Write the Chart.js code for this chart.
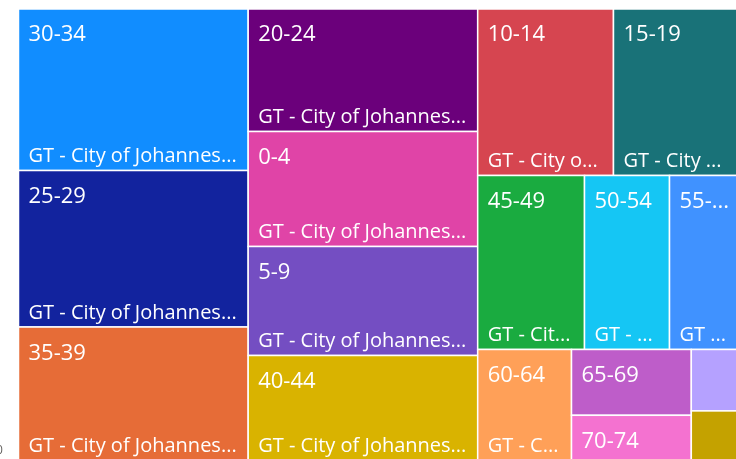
<!DOCTYPE html>
<html>
<head>
<meta charset="utf-8">
<script src="https://cdn.jsdelivr.net/npm/chart.js@4.4.1/dist/chart.umd.min.js"></script>
<style>
  body { margin: 0; background: #fff; }
  canvas { display: block; }
</style>
</head>
<body>
<canvas id="treemap" width="736" height="459"></canvas>
<script>
// population by age group, GT - City of Johannesburg
const ageGroups = ['0-4','5-9','10-14','15-19','20-24','25-29','30-34','35-39','40-44','45-49','50-54','55-59','60-64','65-69','70-74','75-79','80+'];
const population = [343100, 325200, 293900, 269500, 365500, 467300, 482300, 398600, 313300, 241600, 192300, 154900, 135400, 102500, 70400, 37300, 30100];
const municipality = 'GT - City of Johannesburg';
// colours go by rank (biggest first)
const palette = ['#118DFF','#12239E','#E66C37','#6B007B','#E044A7','#744EC2','#D9B300','#D64550','#197278','#1AAB40','#15C6F4','#4092FF','#FFA058','#BE5DC9','#F472D0','#B5A1FF','#C4A200'];

const PHI = (1 + Math.sqrt(5)) / 2;

// squarified layout, same greedy rule as d3.treemapSquarify
function squarify(nodes, x0, y0, x1, y1) {
  let value = nodes.reduce((a, n) => a + n.value, 0);
  let i0 = 0, i1 = 0;
  const n = nodes.length;
  while (i0 < n) {
    const dx = x1 - x0, dy = y1 - y0;
    let sumValue = nodes[i1++].value;
    let minValue = sumValue, maxValue = sumValue;
    const alpha = Math.max(dy / dx, dx / dy) / (value * PHI);
    let beta = sumValue * sumValue * alpha;
    let minRatio = Math.max(maxValue / beta, beta / minValue);
    for (; i1 < n; ++i1) {
      const v = nodes[i1].value;
      sumValue += v;
      if (v < minValue) minValue = v;
      if (v > maxValue) maxValue = v;
      beta = sumValue * sumValue * alpha;
      const newRatio = Math.max(maxValue / beta, beta / minValue);
      if (newRatio > minRatio) { sumValue -= v; break; }
      minRatio = newRatio;
    }
    const row = nodes.slice(i0, i1);
    if (dx < dy) {
      const yb = y0 + dy * sumValue / value;
      let x = x0;
      row.forEach(nd => {
        const w = dx * nd.value / sumValue;
        nd.x0 = x; nd.x1 = x + w; nd.y0 = y0; nd.y1 = yb;
        x += w;
      });
      y0 = yb;
    } else {
      const xb = x0 + dx * sumValue / value;
      let y = y0;
      row.forEach(nd => {
        const h = dy * nd.value / sumValue;
        nd.x0 = x0; nd.x1 = xb; nd.y0 = y; nd.y1 = y + h;
        y += h;
      });
      x0 = xb;
    }
    value -= sumValue;
    i0 = i1;
  }
  return nodes;
}

function fitText(ctx, text, maxW) {
  if (ctx.measureText(text).width <= maxW) return text;
  let s = text;
  while (s.length > 0 && ctx.measureText(s + '...').width > maxW) s = s.slice(0, -1);
  return s.length ? s + '...' : '';
}

const treemapCells = {
  id: 'treemapCells',
  afterDatasetsDraw(chart) {
    const { ctx, chartArea, scales: { x, y } } = chart;
    const nodes = ageGroups
      .map((g, i) => ({ label: g, value: population[i] }))
      .sort((a, b) => b.value - a.value);
    nodes.forEach((nd, i) => nd.color = palette[i % palette.length]);
    squarify(nodes, x.getPixelForValue(0), y.getPixelForValue(0), x.getPixelForValue(100), y.getPixelForValue(100));

    ctx.save();
    ctx.beginPath();
    ctx.rect(chartArea.left, chartArea.top, chartArea.width, chartArea.height);
    ctx.clip();

    nodes.forEach(nd => {
      ctx.fillStyle = nd.color;
      ctx.fillRect(nd.x0, nd.y0, nd.x1 - nd.x0, nd.y1 - nd.y0);
      ctx.strokeStyle = '#ffffff';
      ctx.lineWidth = 1.5;
      ctx.strokeRect(nd.x0, nd.y0, nd.x1 - nd.x0, nd.y1 - nd.y0);
    });

    ctx.fillStyle = '#ffffff';
    ctx.textAlign = 'left';
    ctx.textBaseline = 'alphabetic';
    nodes.forEach(nd => {
      const w = nd.x1 - nd.x0, h = nd.y1 - nd.y0;
      if (w < 50 || h < 30) return;
      ctx.font = '22px "Open Sans"';
      ctx.fillText(fitText(ctx, nd.label, w - 18), nd.x0 + 10, nd.y0 + 32.5);
      if (h >= 80) {
        ctx.font = '20px "Open Sans"';
        ctx.fillText(fitText(ctx, municipality, w - 19), nd.x0 + 10, nd.y1 - 8.5);
      }
    });

    // edge of the next visual's axis label, cut off at the left
    ctx.fillStyle = '#605E5C';
    ctx.font = '12px "Open Sans"';
    ctx.fillText('0', -4, 454);
    ctx.restore();
  }
};

new Chart(document.getElementById('treemap'), {
  type: 'scatter',
  data: { datasets: [{ data: [] }] },
  options: {
    responsive: false,
    animation: false,
    devicePixelRatio: 1,
    layout: { padding: 0 },
    plugins: { legend: { display: false }, tooltip: { enabled: false } },
    scales: {
      // treemap spans 0..100 on both axes; the window shows a crop of it
      x: { type: 'linear', display: false, min: -2.571, max: 99.722 },
      y: { type: 'linear', display: false, reverse: true, min: -1.993, max: 99.668 }
    }
  },
  plugins: [treemapCells]
});
</script>
</body>
</html>
